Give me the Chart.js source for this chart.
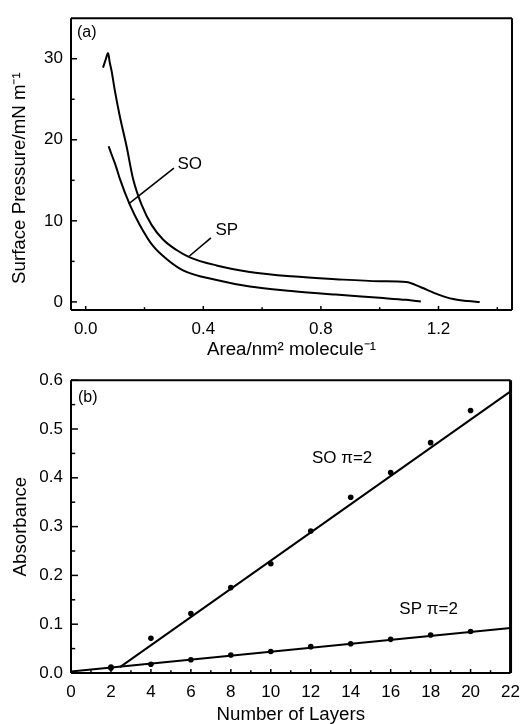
<!DOCTYPE html>
<html>
<head>
<meta charset="utf-8">
<script src="https://cdn.jsdelivr.net/npm/chart.js@4.4.0/dist/chart.umd.min.js"></script>
<style>
  html, body { margin: 0; padding: 0; background: #fff; }
  #wrap { position: relative; width: 529px; height: 724px; }
  canvas { position: absolute; left: 0; }
</style>
</head>
<body>
<div id="wrap">
  <canvas id="isotherm" width="529" height="362" style="top:0"></canvas>
  <canvas id="absorb" width="529" height="362" style="top:362px"></canvas>
</div>
<script>
// (a) surface pressure - area isotherms
const spArea     = [0.059, 0.068, 0.076, 0.082, 0.088, 0.099, 0.116, 0.139, 0.161, 0.19, 0.224, 0.263, 0.309, 0.354, 0.445, 0.558, 0.70, 0.85, 1.0, 1.09, 1.14, 1.2, 1.25, 1.30, 1.34];
const spPressure = [28.9, 29.9, 30.7, 29.5, 28.5, 26.1, 22.9, 19.2, 15.2, 12.0, 9.5, 7.7, 6.4, 5.5, 4.5, 3.7, 3.15, 2.8, 2.55, 2.45, 1.8, 0.9, 0.35, 0.1, 0.0];
const soArea     = [0.078, 0.09, 0.104, 0.116, 0.15, 0.184, 0.229, 0.275, 0.331, 0.445, 0.558, 0.70, 0.85, 1.0, 1.09, 1.14];
const soPressure = [19.2, 18.0, 16.6, 15.2, 12.0, 9.5, 6.9, 5.3, 3.9, 2.7, 1.9, 1.35, 0.9, 0.5, 0.25, 0.05];
const isoXTicks = [0, 0.4, 0.8, 1.2];
const isoXMinor = [0.2, 0.6, 1.0, 1.4];
const isoYTicks = [0, 10, 20, 30];
const isoYMinor = [5, 15, 25];

// (b) absorbance vs number of layers
const layers = [2, 4, 6, 8, 10, 12, 14, 16, 18, 20];
const soAbs  = [0.012, 0.071, 0.122, 0.175, 0.224, 0.291, 0.360, 0.411, 0.472, 0.538];
const spAbs  = [0.010, 0.018, 0.027, 0.037, 0.044, 0.054, 0.060, 0.069, 0.078, 0.085];
const soFitX = [2.45, 22];
const soFitY = [0.012, 0.577];
const spFitX = [0, 22];
const spFitY = [0.003, 0.092];
const absXTicks = [0, 2, 4, 6, 8, 10, 12, 14, 16, 18, 20, 22];
const absXMinor = [1, 3, 5, 7, 9, 11, 13, 15, 17, 19, 21];
const absYTicks = [0, 0.1, 0.2, 0.3, 0.4, 0.5, 0.6];
const absYMinor = [0.05, 0.15, 0.25, 0.35, 0.45, 0.55];

const FONT = '"Liberation Sans", Arial, Helvetica, sans-serif';
const toXY = (xs, ys) => xs.map((x, i) => ({ x: x, y: ys[i] }));

// box + inward tick marks + panel letter + notes
const frameAndTicks = {
  id: 'frameAndTicks',
  afterDatasetsDraw(chart, args, o) {
    const { ctx, chartArea: a, scales: { x, y } } = chart;
    ctx.save();
    ctx.strokeStyle = '#000';
    ctx.lineWidth = 1.5;
    const seg = (x1, y1, x2, y2) => { ctx.beginPath(); ctx.moveTo(x1, y1); ctx.lineTo(x2, y2); ctx.stroke(); };
    o.xMajor.forEach(v => { const p = x.getPixelForValue(v); seg(p, a.bottom, p, a.bottom - o.xLen); });
    o.xMinor.forEach(v => { const p = x.getPixelForValue(v); seg(p, a.bottom, p, a.bottom - o.xLen * 0.7); });
    o.yMajor.forEach(v => { const p = y.getPixelForValue(v); seg(a.left, p, a.left + o.yLen, p); });
    o.yMinor.forEach(v => { const p = y.getPixelForValue(v); seg(a.left, p, a.left + o.yLen * 0.6, p); });

    ctx.lineWidth = 2;
    seg(a.left, a.top, a.right, a.top);
    seg(a.left, a.top, a.left, a.bottom);
    seg(a.left, a.bottom, a.right, a.bottom);
    ctx.lineWidth = o.rightWidth;
    seg(a.right, a.top, a.right, a.bottom);

    ctx.fillStyle = '#000';
    ctx.font = '16px ' + FONT;
    ctx.textAlign = 'left';
    ctx.textBaseline = 'top';
    ctx.fillText(o.panel, a.left + o.panelDx, a.top + o.panelDy);

    ctx.font = '17px ' + FONT;
    ctx.textAlign = 'center';
    ctx.textBaseline = 'middle';
    o.notes.forEach(n => ctx.fillText(n.text, x.getPixelForValue(n.x), y.getPixelForValue(n.y)));
    ctx.lineWidth = 1.6;
    o.pointers.forEach(p => seg(x.getPixelForValue(p[0]), y.getPixelForValue(p[1]), x.getPixelForValue(p[2]), y.getPixelForValue(p[3])));
    ctx.restore();
  }
};

const tickFont = { family: FONT, size: 17 };
const titleFont = { family: FONT, size: 18.7, lineHeight: 1 };

new Chart(document.getElementById('isotherm'), {
  type: 'scatter',
  data: {
    datasets: [
      { data: toXY(spArea, spPressure), showLine: true, borderColor: '#000', borderWidth: 2, pointRadius: 0, cubicInterpolationMode: 'monotone', clip: false },
      { data: toXY(soArea, soPressure), showLine: true, borderColor: '#000', borderWidth: 2, pointRadius: 0, cubicInterpolationMode: 'monotone', clip: false }
    ]
  },
  options: {
    responsive: false,
    animation: false,
    layout: { padding: { top: 13, right: 17, left: 0, bottom: 0 } },
    plugins: {
      legend: { display: false },
      tooltip: { enabled: false },
      frameAndTicks: {
        xMajor: isoXTicks, xMinor: isoXMinor, yMajor: isoYTicks, yMinor: isoYMinor,
        xLen: 4, yLen: 6, rightWidth: 2, panel: '(a)', panelDx: 6, panelDy: 6,
        notes: [{ text: 'SO', x: 0.354, y: 17.0 }, { text: 'SP', x: 0.48, y: 8.85 }],
        pointers: [[0.300, 16.5, 0.146, 12.1], [0.426, 7.9, 0.351, 5.6]]
      }
    },
    scales: {
      x: {
        type: 'linear', min: -0.05, max: 1.45,
        afterBuildTicks: s => { s.ticks = isoXTicks.map(v => ({ value: v })); },
        afterFit: s => { s.height = 52; },
        ticks: { color: '#000', font: tickFont, padding: 9, callback: v => v.toFixed(1) },
        grid: { display: false, drawTicks: false },
        border: { display: false },
        title: { display: true, text: 'Area/nm² molecule⁻¹', color: '#000', font: titleFont, padding: { top: 0, bottom: 3 } }
      },
      y: {
        type: 'linear', min: -1, max: 35,
        afterBuildTicks: s => { s.ticks = isoYTicks.map(v => ({ value: v })); },
        afterFit: s => { s.width = 71; },
        ticks: { color: '#000', font: tickFont, padding: 8, callback: v => String(v) },
        grid: { display: false, drawTicks: false },
        border: { display: false },
        title: { display: true, text: 'Surface Pressure/mN m⁻¹\u2002\u2002\u2002', color: '#000', font: titleFont, padding: { top: 11, bottom: 0 } }
      }
    }
  },
  plugins: [frameAndTicks]
});

new Chart(document.getElementById('absorb'), {
  type: 'scatter',
  data: {
    datasets: [
      { data: toXY(layers, soAbs), pointRadius: 2.8, pointBackgroundColor: '#000', pointBorderWidth: 0, clip: false },
      { data: toXY(layers, spAbs), pointRadius: 2.8, pointBackgroundColor: '#000', pointBorderWidth: 0, clip: false },
      { data: toXY(soFitX, soFitY), showLine: true, borderColor: '#000', borderWidth: 2, pointRadius: 0, clip: false },
      { data: toXY(spFitX, spFitY), showLine: true, borderColor: '#000', borderWidth: 2, pointRadius: 0, clip: false }
    ]
  },
  options: {
    responsive: false,
    animation: false,
    layout: { padding: { top: 9, right: 17, left: 0, bottom: 0 } },
    plugins: {
      legend: { display: false },
      tooltip: { enabled: false },
      frameAndTicks: {
        xMajor: absXTicks, xMinor: absXMinor, yMajor: absYTicks, yMinor: absYMinor,
        xLen: 4, yLen: 7, rightWidth: 3, panel: '(b)', panelDx: 7, panelDy: 9,
        notes: [{ text: 'SO π=2', x: 13.57, y: 0.439 }, { text: 'SP π=2', x: 17.9, y: 0.131 }],
        pointers: []
      }
    },
    scales: {
      x: {
        type: 'linear', min: 0, max: 22,
        afterBuildTicks: s => { s.ticks = absXTicks.map(v => ({ value: v })); },
        afterFit: s => { s.height = 51; },
        ticks: { color: '#000', font: tickFont, padding: 9, callback: v => String(v) },
        grid: { display: false, drawTicks: false },
        border: { display: false },
        title: { display: true, text: 'Number of Layers', color: '#000', font: titleFont, padding: { top: 0, bottom: 0 } }
      },
      y: {
        type: 'linear', min: 0, max: 0.6,
        afterBuildTicks: s => { s.ticks = absYTicks.map(v => ({ value: v })); },
        afterFit: s => { s.width = 71; },
        ticks: { color: '#000', font: tickFont, padding: 8, callback: v => v.toFixed(1) },
        grid: { display: false, drawTicks: false },
        border: { display: false },
        title: { display: true, text: 'Absorbance', color: '#000', font: titleFont, padding: { top: 12, bottom: 0 } }
      }
    }
  },
  plugins: [frameAndTicks]
});
</script>
</body>
</html>
